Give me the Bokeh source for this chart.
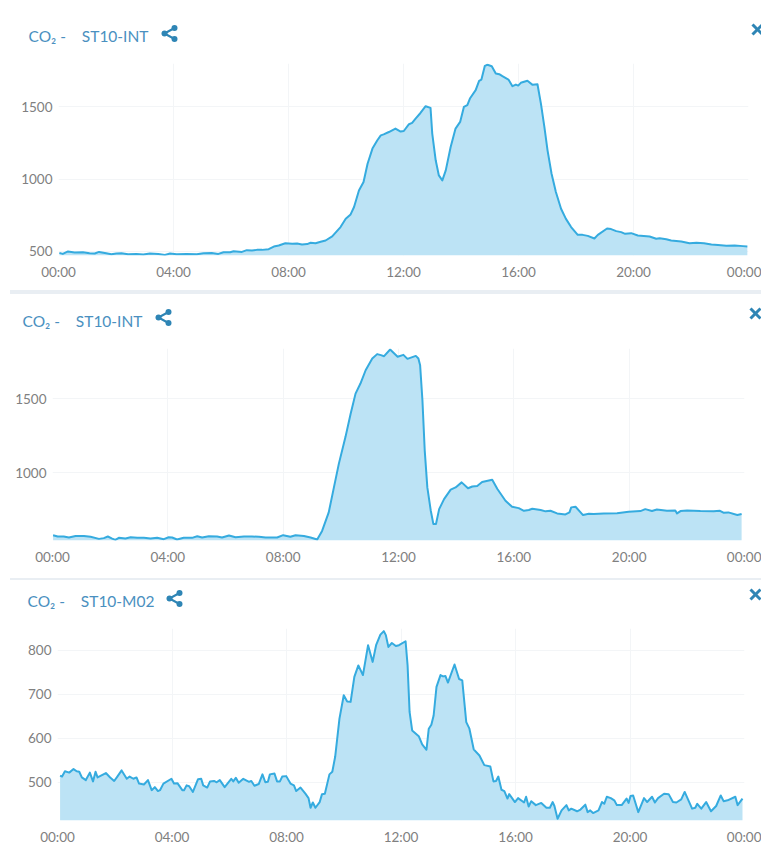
from bokeh.plotting import figure
from bokeh.layouts import column
from bokeh.models import Range1d, FixedTicker, Spacer, ColumnDataSource
from bokeh.core.properties import value
from bokeh.embed import file_html
from bokeh.resources import INLINE

tick_hours = [0, 4, 8, 12, 16, 20, 24]
tick_labels = ["00:00", "04:00", "08:00", "12:00", "16:00", "20:00", "00:00"]

titles = ["CO₂ -\u00a0\u00a0\u00a0\u00a0ST10-INT", "CO₂ -\u00a0\u00a0\u00a0\u00a0ST10-INT", "CO₂ -\u00a0\u00a0\u00a0\u00a0ST10-M02"]

hours_a = [.03,.15,.33,.56,.85,1.08,1.26,1.41,1.66,1.84,2.01,2.19,2.42,2.71,2.95,3.18,3.47,3.7,3.88,4.11,4.46,4.81,5.04,5.33,5.56,5.74,5.97,6.09,6.38,6.55,6.73,6.9,7.08,7.31,7.49,7.66,7.89,8.13,8.3,8.47,8.65,8.77,8.94,9.12,9.29,9.52,9.7,9.81,9.99,10.16,10.28,10.45,10.61,10.75,10.92,11.09,11.21,
11.31,11.49,11.72,11.9,12.01,12.19,12.3,12.42,12.59,12.77,12.94,13.0,13.12,13.23,13.35,13.47,13.64,13.81,13.97,14.1,14.22,14.31,14.51,14.63,14.71,14.83,14.92,15.07,15.21,15.33,15.44,15.65,15.79,15.91,15.99,16.08,16.31,16.49,16.66,16.78,16.9,17.01,17.15,17.3,17.48,17.65,17.83,18.06,18.23,18.41,18.64,18.76,19.08,19.22,19.4,19.57,19.71,19.92,20.15,20.56,20.79,20.91,21.14,21.31,21.66,21.95,22.19,22.45,22.71,22.94,23.23,23.52,23.81,23.96]
co2_a = [488,481,498,491,493,486,484,495,486,479,484,486,479,481,477,484,481,474,484,479,481,479,486,488,481,493,493,500,495,507,505,509,509,514,532,539,555,551,553,546,549,558,555,565,574,602,643,667,725,755,806,921,979,1106,1211,1269,1303,
1310,1326,1350,1329,1333,1380,1389,1419,1458,1505,1493,1315,1130,1025,991,1060,1222,1350,1396,1500,1512,1558,1616,1681,1690,1785,1792,1782,1732,1727,1713,1690,1644,1655,1648,1667,1681,1653,1657,1523,1361,1199,1037,910,794,724,667,613,613,606,588,613,657,653,639,632,620,625,609,602,586,590,583,574,567,555,558,555,546,542,537,539,535,532]

hours_b = [.02,.18,.39,.57,.8,1.09,1.32,1.61,1.78,1.92,2.07,2.18,2.3,2.53,2.71,2.94,3.17,3.4,3.63,3.86,4.03,4.15,4.32,4.55,4.84,5.02,5.19,5.42,5.71,5.88,6.12,6.35,6.64,6.92,7.16,7.39,7.79,8.0,8.25,8.43,8.72,8.95,9.18,9.35,9.58,9.76,9.93,10.16,10.34,10.51,10.68,10.86,11.09,11.26,
11.39,11.5,11.71,11.97,12.17,12.31,12.6,12.69,12.75,12.83,12.91,13.0,13.12,13.21,13.3,13.41,13.58,13.81,13.98,14.19,14.41,14.56,14.73,14.9,15.25,15.43,15.71,15.94,16.17,16.35,16.52,16.64,16.93,17.1,17.27,17.5,17.79,17.93,17.99,18.14,18.4,18.6,18.77,19.12,19.58,19.98,20.39,20.56,20.79,20.96,21.31,21.6,21.66,21.78,22.01,22.47,22.93,23.15,23.27,23.44,23.75,23.9]
co2_b = [577,568,568,561,572,572,566,552,557,568,554,545,559,554,563,559,559,554,559,550,563,561,548,559,559,570,561,570,568,561,575,563,568,568,566,561,561,577,566,577,572,561,548,606,731,900,1059,1240,1398,1534,1602,1692,1771,1801,
1794,1787,1832,1783,1796,1769,1789,1771,1726,1489,1149,900,742,652,652,753,821,885,900,934,894,906,910,937,952,889,810,769,760,742,747,756,747,738,742,724,717,731,765,769,713,722,720,724,726,735,740,753,740,751,742,744,724,740,744,740,738,742,729,731,713,720]

hours_c = [.09,.16,.26,.41,.56,.67,.76,.85,.99,1.13,1.24,1.33,1.4,1.69,1.84,1.98,2.09,2.24,2.42,2.52,2.65,2.76,2.85,3.02,3.16,3.29,3.4,3.51,3.58,3.7,3.98,4.07,4.19,4.36,4.42,4.51,4.6,4.73,4.91,5.02,5.09,5.23,5.33,5.47,5.56,5.67,5.84,6.07,6.14,6.23,6.33,6.49,6.69,6.77,6.88,7.03,7.16,7.26,7.35,7.42,7.58,7.67,7.77,7.85,7.99,8.14,8.26,8.34,8.49,8.66,8.77,8.84,8.92,9.01,9.16,9.24,9.34,9.5,9.6,9.7,9.85,10.0,10.12,10.24,10.37,10.51,10.67,10.85,11.01,11.13,11.28,
11.4,11.47,11.56,11.68,11.82,11.93,12.16,12.23,12.3,12.39,12.62,12.74,12.89,12.97,13.06,13.14,13.24,13.38,13.47,13.55,13.64,13.87,14.03,14.14,14.28,14.39,14.54,14.74,14.91,15.12,15.23,15.32,15.4,15.51,15.61,15.72,15.78,15.98,16.09,16.3,16.37,16.46,16.55,16.71,16.9,17.08,17.2,17.3,17.36,17.47,17.61,17.78,17.86,17.95,18.15,18.27,18.44,18.52,18.61,18.71,18.9,19.02,19.1,19.19,19.33,19.45,19.54,19.71,19.88,19.95,20.02,20.11,20.29,20.49,20.6,20.77,20.87,20.98,21.19,21.35,21.5,21.62,21.79,21.91,22.17,22.28,22.35,22.49,22.66,22.83,23.01,23.17,23.27,23.41,23.68,23.76,23.93]
co2_c = [515,513,525,522,530,525,524,511,505,522,502,524,511,521,511,503,513,527,508,513,508,511,497,495,505,482,489,480,482,497,508,497,498,482,482,493,491,478,507,508,493,488,502,503,500,505,489,508,502,510,499,508,501,503,492,496,518,500,501,518,520,502,502,513,514,497,493,480,488,474,464,442,454,442,455,473,474,518,524,558,645,698,684,683,740,766,744,812,774,812,836,
844,835,808,817,810,812,821,766,660,618,605,586,574,622,631,652,717,744,741,742,727,768,735,732,637,622,575,561,539,536,502,503,513,483,480,463,473,455,464,454,467,445,457,448,453,442,442,455,446,417,436,448,436,440,434,438,449,432,436,430,436,455,451,467,464,459,448,448,463,453,469,470,432,464,455,467,454,464,474,473,455,454,461,478,440,442,451,440,455,434,446,470,457,459,467,448,463]

y_ticks_a = [500, 1000, 1500]
y_ticks_b = [1000, 1500]
y_ticks_c = [500, 600, 700, 800]

LINE = "#35abdf"
FILL = "#bce3f5"
TITLE = "#4a90c0"
ICON = "#2e85b5"
GRID = "#f3f5f7"
TICK = "#808080"
BAND = "#e9eef3"
W = 761


def header(title, h, title_xy, share_xy, close_xy):
    """Card header strip: a frameless figure whose scale is its own pixels."""
    p = figure(width=W, height=h, x_range=Range1d(0, W), y_range=Range1d(h, 0), output_backend="svg",
               toolbar_location=None, min_border=0, x_axis_type=None, y_axis_type=None, frame_align=False,
               background_fill_color="white", border_fill_color="white")
    p.outline_line_color = None
    p.grid.visible = False
    p.text(x=[title_xy[0]], y=[title_xy[1]], text=[title], text_font=value("Lato"), text_font_size="15.5px",
           text_color=TITLE, text_baseline="middle")
    sx, sy = share_xy
    p.line(x=[sx + 5, sx - 5, sx + 5], y=[sy - 5.5, sy, sy + 5.5], line_color=ICON, line_width=2)
    p.scatter(x=[sx - 5, sx + 5, sx + 5], y=[sy, sy - 5.5, sy + 5.5], size=6, marker="circle",
              fill_color=ICON, line_color=ICON, line_width=0)
    cx, cy = close_xy
    p.multi_line(xs=[[cx - 5, cx + 5], [cx - 5, cx + 5]], ys=[[cy - 5, cy + 5], [cy + 5, cy - 5]],
                 line_color=ICON, line_width=3)
    return p


def panel(hours, vals, yticks, yr, left, fw, bottom):
    p = figure(frame_width=fw, frame_height=192, min_border_left=left, min_border_right=W - left - fw,
               min_border_top=0, min_border_bottom=bottom, x_range=Range1d(0, 24), y_range=Range1d(*yr),
               output_backend="svg", toolbar_location=None, frame_align=False,
               background_fill_color="white", border_fill_color="white")
    p.outline_line_color = None
    src = ColumnDataSource(dict(x=hours, y=vals, base=[yr[0]] * len(hours)))
    p.varea(x="x", y1="base", y2="y", source=src, fill_color=FILL)
    p.line(x="x", y="y", source=src, line_color=LINE, line_width=2, line_join="round")
    for ax, ticks in ((p.xaxis[0], tick_hours), (p.yaxis[0], yticks)):
        ax.ticker = FixedTicker(ticks=ticks)
        ax.axis_line_color = None
        ax.major_tick_line_color = None
        ax.minor_tick_line_color = None
        ax.major_tick_out = 0
        ax.major_tick_in = 0
        ax.minor_tick_out = 0
        ax.minor_tick_in = 0
        ax.major_label_text_color = TICK
        ax.major_label_text_font = "Lato"
        ax.major_label_text_font_size = "13.5px"
    p.xaxis[0].major_label_overrides = dict(zip(tick_hours, tick_labels))
    p.xaxis[0].major_label_standoff = 8
    p.yaxis[0].major_label_standoff = 6
    p.xgrid[0].ticker = FixedTicker(ticks=tick_hours)
    p.ygrid[0].ticker = FixedTicker(ticks=yticks)
    p.xgrid.grid_line_color = GRID
    p.ygrid.grid_line_color = GRID
    return p


head_a = header(titles[0], 63, (28, 35), (169, 33), (757, 29))
head_b = header(titles[1], 54, (22, 26), (163, 23), (755, 19))
head_c = header(titles[2], 48, (27, 20), (174, 18), (755, 14))
fig_a = panel(hours_a, co2_a, y_ticks_a, (470, 1801), 58, 690, 35)
fig_b = panel(hours_b, co2_b, y_ticks_b, (541, 1839), 52, 692, 38)
fig_c = panel(hours_c, co2_c, y_ticks_c, (413, 850), 57, 687, 32)

band1 = Spacer(width=751, height=4, margin=(0, 0, 0, 10), styles={"background-color": BAND})
band2 = Spacer(width=751, height=2, margin=(0, 0, 0, 10), styles={"background-color": BAND})
page = column(head_a, fig_a, band1, head_b, fig_b, band2, head_c, fig_c, spacing=0)
open("out.html", "w").write(file_html(page, INLINE))
